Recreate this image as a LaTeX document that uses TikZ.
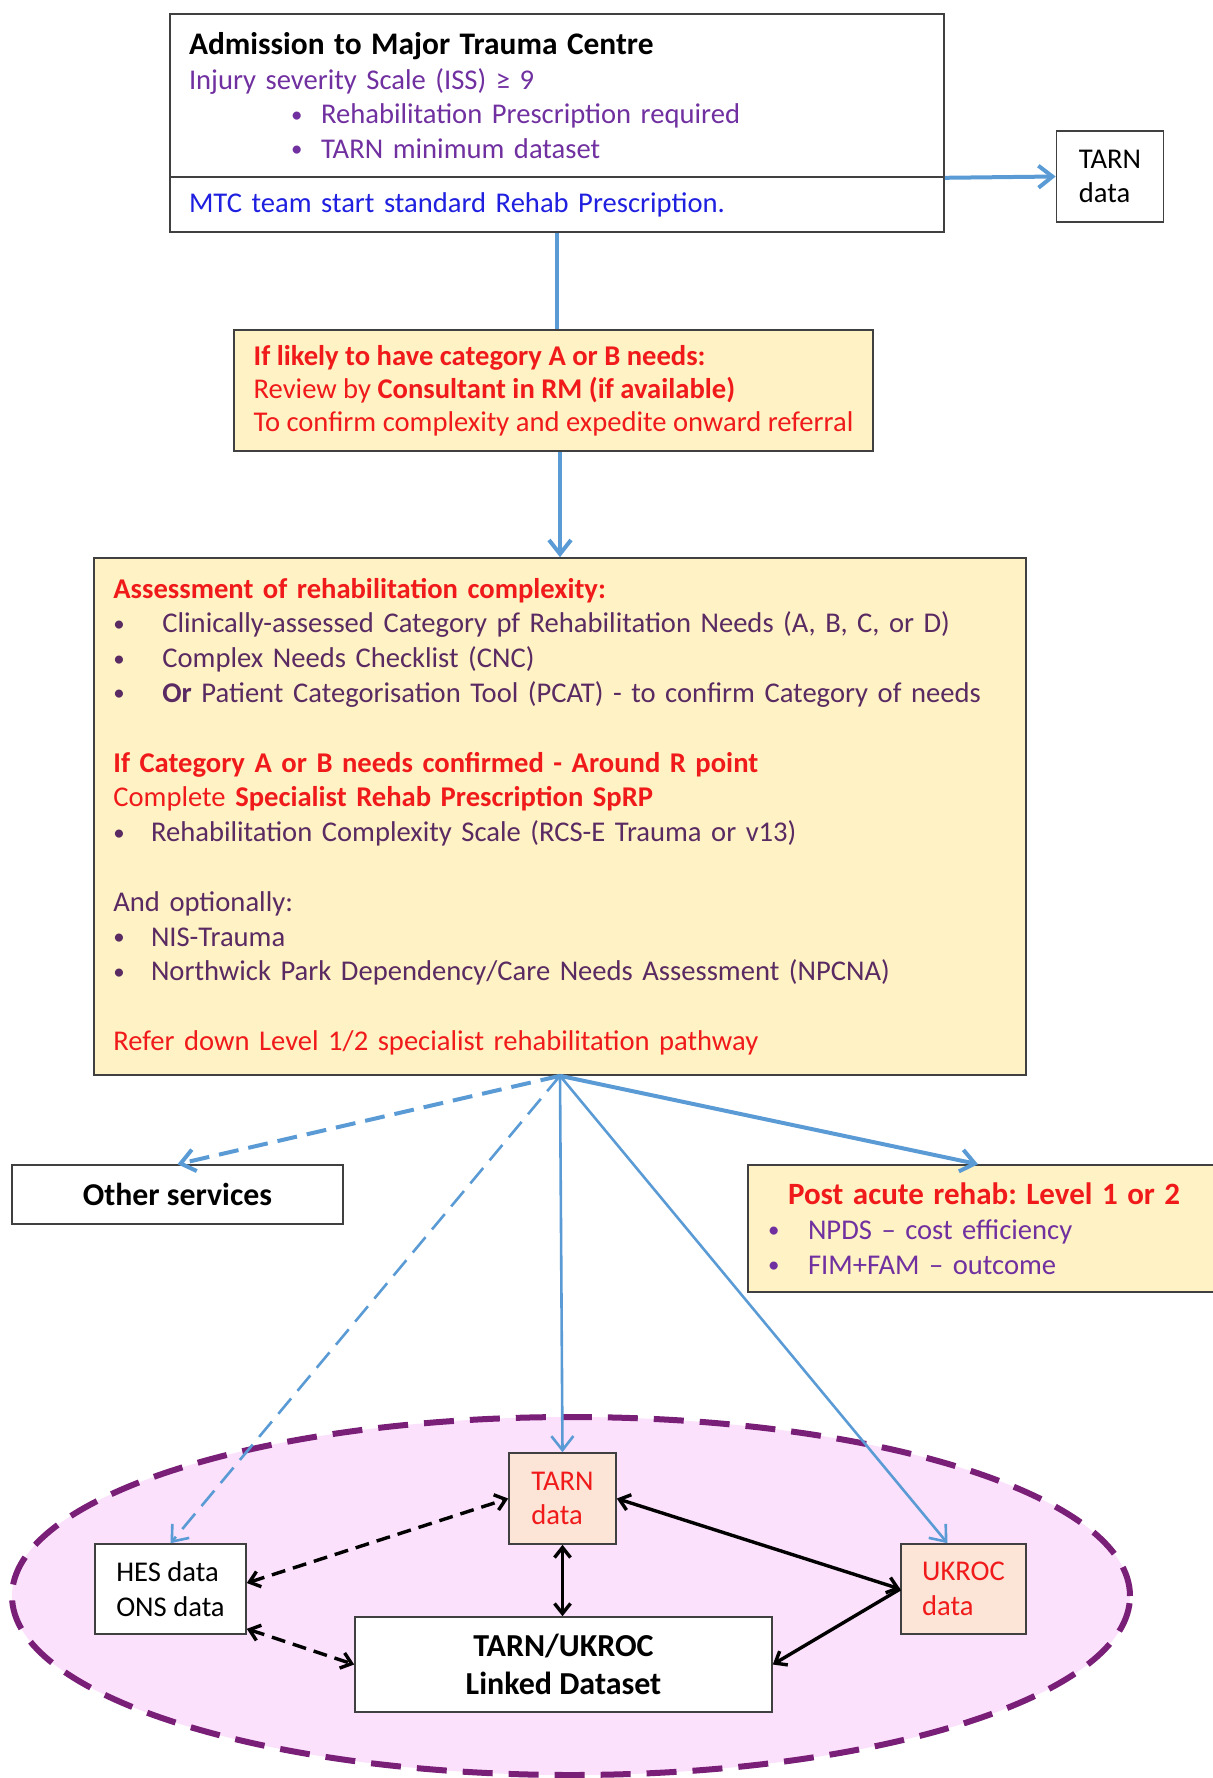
\documentclass[tikz,border=0pt]{standalone}
\usepackage{fontspec}
\setmainfont{Carlito}
\usepackage{xcolor}
\usepackage{graphicx}
\usetikzlibrary{arrows.meta,shapes.geometric}

\definecolor{boxyellow}{HTML}{FFF2C4}
\definecolor{peach}{HTML}{FCE4D6}
\definecolor{zonepink}{HTML}{FBE1FB}
\definecolor{zonepurple}{HTML}{7A1F78}
\definecolor{linkblue}{HTML}{5B9BD5}
\definecolor{txtpurple}{HTML}{7030A0}
\definecolor{txtplum}{HTML}{5A2A62}
\definecolor{txtred}{HTML}{F01A1A}
\definecolor{txtblue}{HTML}{1F1FE0}

\newcommand{\blt}[1]{\makebox[#1][l]{\raisebox{0.12ex}{\scalebox{0.8}{\textbullet}}}}

\begin{document}
\frenchspacing
\begin{tikzpicture}[x=0.5pt, y=-0.5pt, every node/.style={font=\fontsize{14.3}{17.4}\selectfont}]
  \useasboundingbox (0,0) rectangle (1213,1778);
  \tikzset{boxstyle/.style={draw=black!75, thick, rectangle, inner sep=0pt, align=left}}
  \tikzset{databox/.style={boxstyle, minimum width=53.5pt, minimum height=45.5pt}}

  % pink zone round the linked data
  \node[ellipse, fill=zonepink, draw=zonepurple, line width=3pt, dash pattern=on 15pt off 8pt,
        minimum width=559pt, minimum height=179pt] (zone) at (571,1596) {};

  % top level
  \node[boxstyle, minimum width=387pt, minimum height=81.5pt, text width=368pt] (adm) at (557,95.5)
    {{\fontsize{15.7}{17.4}\selectfont\bfseries Admission to Major Trauma Centre}\\
     \textcolor{txtpurple}{Injury severity Scale (ISS) ≥ 9}\\
     \textcolor{txtpurple}{\hspace*{51pt}\blt{15pt}Rehabilitation Prescription required}\\
     \textcolor{txtpurple}{\hspace*{51pt}\blt{15pt}TARN minimum dataset}};
  \node[boxstyle, minimum width=387pt, minimum height=27.5pt, text width=368pt, text=txtblue] (mtc) at (557,204.5)
    {MTC team start standard Rehab Prescription.};
  \node[databox] (tarna) at (1110,176.5) {TARN\\data};

  \node[boxstyle, fill=boxyellow, text=txtred, minimum width=319.5pt, minimum height=60.5pt,
        font=\fontsize{14.3}{16.5}\selectfont] (likely) at (553.5,390.5)
    {{\bfseries If likely to have category A or B needs:}\\
     Review by {\bfseries Consultant in RM (if available)}\\
     To confirm complexity and expedite onward referral};

  \node[boxstyle, fill=boxyellow, text=txtplum, minimum width=466pt, minimum height=258.5pt, text width=446.6pt] (assess) at (560,816.5)
    {\textcolor{txtred}{\bfseries Assessment of rehabilitation complexity:}\\
     \blt{24.5pt}Clinically-assessed Category pf Rehabilitation Needs (A, B, C, or D)\\
     \blt{24.5pt}Complex Needs Checklist (CNC)\\
     \blt{24.5pt}{\bfseries Or} Patient Categorisation Tool (PCAT) - to confirm Category of needs\\[17.4pt]
     \textcolor{txtred}{\bfseries If Category A or B needs confirmed - Around R point}\\
     \textcolor{txtred}{Complete {\bfseries Specialist Rehab Prescription SpRP}}\\
     \blt{18.8pt}Rehabilitation Complexity Scale (RCS-E Trauma or v13)\\[17.4pt]
     And optionally:\\
     \blt{18.8pt}NIS-Trauma\\
     \blt{18.8pt}Northwick Park Dependency/Care Needs Assessment (NPCNA)\\[17.4pt]
     \textcolor{txtred}{Refer down Level 1/2 specialist rehabilitation pathway}};

  \node[boxstyle, align=center, minimum width=165.5pt, minimum height=29.5pt,
        font=\fontsize{15.9}{18}\selectfont\bfseries] (other) at (177.5,1194.5) {Other services};
  \node[boxstyle, fill=boxyellow, text=txtpurple, minimum width=240pt, minimum height=63.5pt, text width=220pt] (post) at (988,1228.5)
    {\hspace*{10pt}\textcolor{txtred}{\fontsize{15.5}{17.4}\selectfont\bfseries Post acute rehab: Level 1 or 2}\\
     \blt{20pt}NPDS -- cost efficiency\\
     \blt{20pt}FIM+FAM -- outcome};

  % linked data
  \node[databox, fill=peach, text=txtred] (tarnb) at (562.5,1498.5) {TARN\\data};
  \node[databox, fill=white, minimum width=75.5pt, minimum height=45pt] (hes) at (170.5,1589) {HES data\\ONS data};
  \node[databox, fill=peach, text=txtred, minimum width=62.5pt, minimum height=45pt] (ukroc) at (963.5,1589) {UKROC\\data};
  \node[boxstyle, fill=white, align=center, minimum width=208.5pt, minimum height=47.5pt,
        font=\fontsize{16}{19}\selectfont\bfseries] (linked) at (563.5,1664.5) {TARN/UKROC\\Linked Dataset};

  \coordinate (hub) at (assess.south);

  \tikzset{bluestyle/.style={-{Straight Barb[length=7pt,width=11pt]}, linkblue, line width=2pt}};
  \tikzset{thinblue/.style={bluestyle, line width=1.3pt}};
  \tikzset{bluedash/.style={bluestyle, dash pattern=on 10pt off 5pt}};
  \tikzset{blackstyle/.style={{Straight Barb[length=5pt,width=8pt]}-{Straight Barb[length=5pt,width=8pt]}, black, line width=1.7pt}};
  \tikzset{blackone/.style={-{Straight Barb[length=5pt,width=8pt]}, black, line width=1.7pt}};
  \tikzset{blackdash/.style={blackstyle, dash pattern=on 7pt off 4pt}};

  \path (mtc.south) edge [linkblue, line width=2pt] (mtc.south |- likely.north);
  \path (assess.north |- likely.south) edge [bluestyle] (assess.north);
  \path (adm.south east) edge [bluestyle] (tarna.west);

  \path (hub) edge [bluedash] (other.north);
  \path (hub) edge [bluestyle] ([xshift=-5pt]post.north);
  \path (hub) edge [thinblue] (tarnb.north);
  \path (hub) edge [thinblue] ([xshift=-8pt]ukroc.north);
  \path (hub) edge [bluedash, line width=1.3pt] (hes.north);

  \path (tarnb.south) edge [blackstyle] (tarnb.south |- linked.north);
  \path (tarnb.east) edge [blackstyle] (ukroc.west);
  \path (ukroc.west) edge [blackone] (linked.east);
  \path ([yshift=3pt]hes.east) edge [blackdash] (tarnb.west);
  \path ([yshift=3pt]hes.south east) edge [blackdash] (linked.west);
\end{tikzpicture}
\end{document}
